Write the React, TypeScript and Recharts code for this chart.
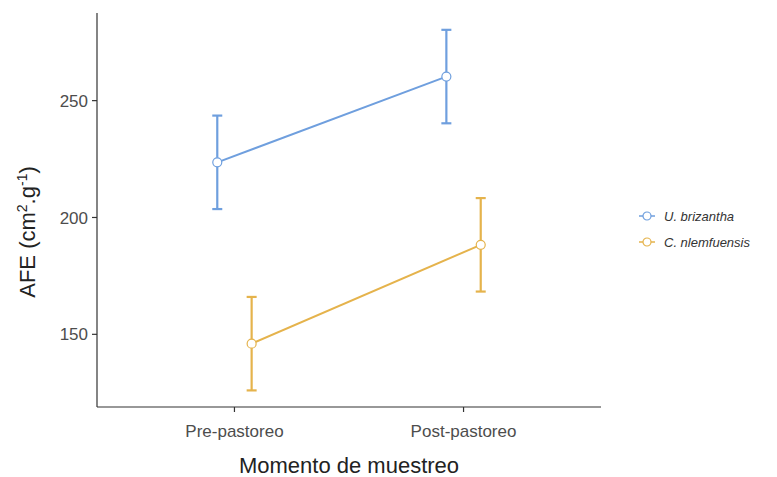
import { LineChart, Line, XAxis, YAxis, ErrorBar } from 'recharts';

const moments = ['Pre-pastoreo', 'Post-pastoreo'];
const species = ['U. brizantha', 'C. nlemfuensis'];
const brizanthaMean = [223.6, 260.3];
const brizanthaErr = [20, 20];
const nlemfuensisMean = [146.0, 188.3];
const nlemfuensisErr = [20, 20];
const yTicks = [150, 200, 250];

const BLUE = '#6f9fde';
const GOLD = '#e5b34c';
const DODGE = 0.075;
const FONT = '"Liberation Sans", Arial, sans-serif';

const brizanthaData = moments.map((m, i) => ({
  x: i + 1 - DODGE,
  y: brizanthaMean[i],
  err: brizanthaErr[i],
}));
const nlemfuensisData = moments.map((m, i) => ({
  x: i + 1 + DODGE,
  y: nlemfuensisMean[i],
  err: nlemfuensisErr[i],
}));

// legend drawn beside the chart so it doesn't eat plot space
function SpeciesLegend() {
  const colors = [BLUE, GOLD];
  return (
    <div
      style={{
        position: 'absolute',
        left: 638,
        top: 203,
        fontFamily: FONT,
        fontSize: 13,
        color: '#333',
        fontStyle: 'italic',
      }}
    >
      {species.map((s, i) => (
        <div key={s} style={{ display: 'flex', alignItems: 'center', height: 26 }}>
          <svg width={18} height={12} style={{ marginRight: 8 }}>
            <line x1={1} y1={6} x2={17} y2={6} stroke={colors[i]} strokeWidth={1.5} />
            <circle cx={9} cy={6} r={4} fill="#fff" stroke={colors[i]} strokeWidth={1.2} />
          </svg>
          <span>{s}</span>
        </div>
      ))}
    </div>
  );
}

export default function App() {
  return (
    <div style={{ position: 'absolute', left: 0, top: 0, width: 777, height: 477, background: '#fff' }}>
      <LineChart width={777} height={477} margin={{ top: 13, right: 176, bottom: 0, left: 0 }}>
        <XAxis
          type="number"
          dataKey="x"
          domain={[0.4, 2.6]}
          ticks={[1, 2]}
          allowDataOverflow
          tickFormatter={(v: number) => moments[v - 1]}
          tick={{ fill: '#4d4d4d', fontSize: 17, fontFamily: FONT }}
          tickSize={5}
          tickMargin={13}
          axisLine={{ stroke: '#333', strokeWidth: 1.2 }}
          tickLine={{ stroke: '#333', strokeWidth: 1.2 }}
          height={70}
          label={{
            content: () => (
              <text x={349} y={473} textAnchor="middle" fontSize={22} fill="#222" fontFamily={FONT}>
                Momento de muestreo
              </text>
            ),
          }}
        />
        <YAxis
          type="number"
          domain={[118.9, 287.5]}
          ticks={yTicks}
          allowDataOverflow
          width={97}
          tick={{ fill: '#4d4d4d', fontSize: 17, fontFamily: FONT }}
          tickSize={5}
          tickMargin={4}
          axisLine={{ stroke: '#333', strokeWidth: 1.2 }}
          tickLine={{ stroke: '#333', strokeWidth: 1.2 }}
          label={{
            content: () => (
              <text
                transform="translate(35, 232) rotate(-90)"
                textAnchor="middle"
                fontSize={22}
                fill="#222"
                fontFamily={FONT}
              >
                AFE (cm
                <tspan fontSize={14} dy={-8}>2</tspan>
                <tspan dy={8}>.g</tspan>
                <tspan fontSize={14} dy={-8}>-1</tspan>
                <tspan dy={8}>)</tspan>
              </text>
            ),
          }}
        />
        <Line
          data={brizanthaData}
          dataKey="y"
          name={species[0]}
          stroke={BLUE}
          strokeWidth={2}
          dot={{ r: 4.5, fill: '#fff', stroke: BLUE, strokeWidth: 1.2 }}
          activeDot={false}
          isAnimationActive={false}
        >
          <ErrorBar dataKey="err" direction="y" width={5} strokeWidth={2.2} stroke={BLUE} isAnimationActive={false} />
        </Line>
        <Line
          data={nlemfuensisData}
          dataKey="y"
          name={species[1]}
          stroke={GOLD}
          strokeWidth={2}
          dot={{ r: 4.5, fill: '#fff', stroke: GOLD, strokeWidth: 1.2 }}
          activeDot={false}
          isAnimationActive={false}
        >
          <ErrorBar dataKey="err" direction="y" width={5} strokeWidth={2.2} stroke={GOLD} isAnimationActive={false} />
        </Line>
      </LineChart>
      <SpeciesLegend />
    </div>
  );
}
